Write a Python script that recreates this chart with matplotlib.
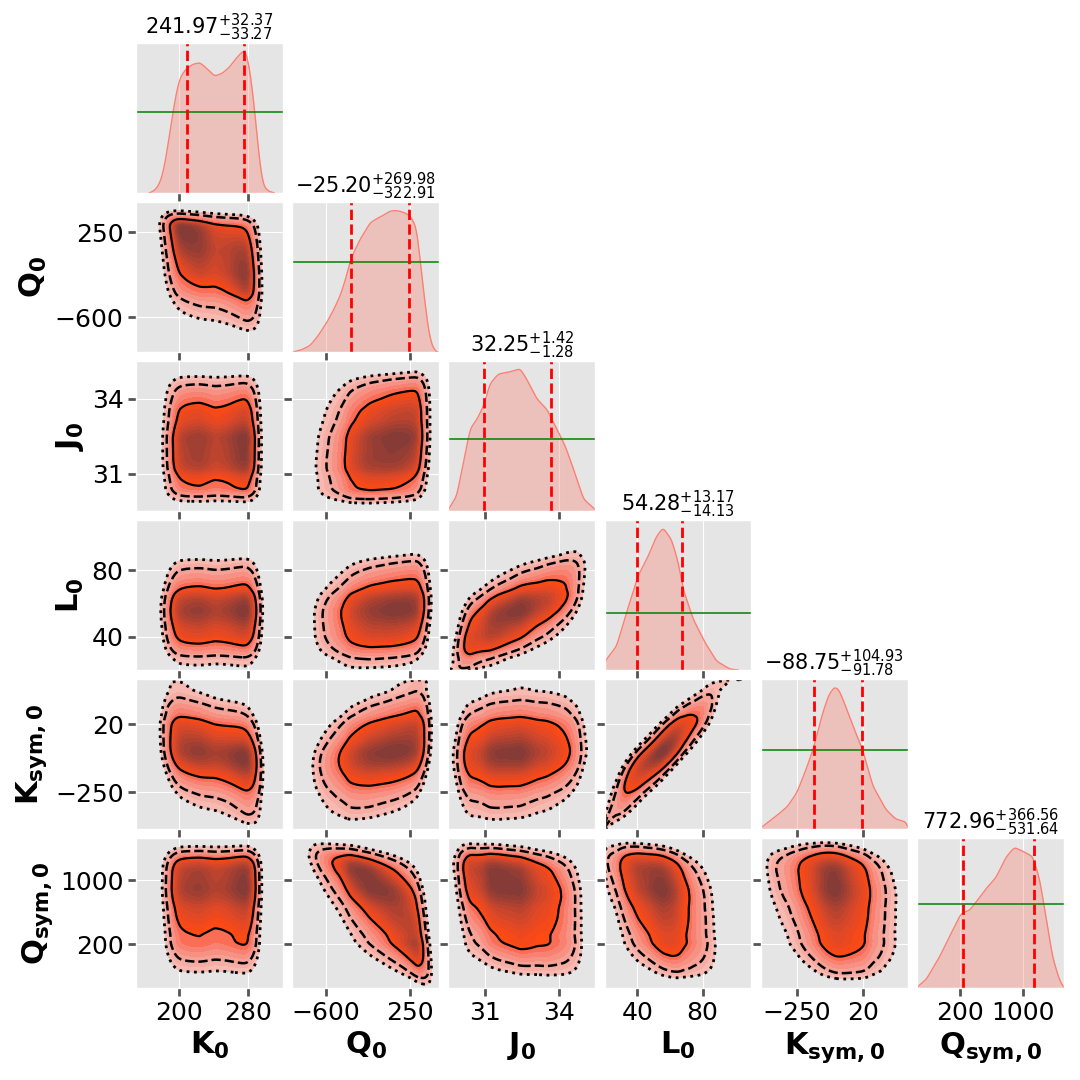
import math
import numpy as np
import matplotlib
matplotlib.use("Agg")
import matplotlib.pyplot as plt
from matplotlib.colors import LinearSegmentedColormap

# parameter labels, summary numbers and ticks
names = [r"$\mathbf{K_0}$", r"$\mathbf{Q_0}$", r"$\mathbf{J_0}$", r"$\mathbf{L_0}$",
         r"$\mathbf{K_{sym,0}}$", r"$\mathbf{Q_{sym,0}}$"]
medians = [241.97, -25.20, 32.25, 54.28, -88.75, 772.96]
err_up = [32.37, 269.98, 1.42, 13.17, 104.93, 366.56]
err_lo = [33.27, 322.91, 1.28, 14.13, 91.78, 531.64]
ticks = [[200, 280], [-600, 250], [31, 34], [40, 80], [-250, 20], [200, 1000]]
limits = [(150, 320), (-945, 550), (29.5, 35.5), (20, 110), (-398, 200), (-348, 1525)]

# marginal densities (relative heights)
k0_x = [166, 172, 177, 181, 185, 189, 193, 197, 201, 208, 216, 224, 232, 241, 250,
        258, 266, 274, 278, 282, 286, 290, 294, 298, 304, 310]
k0_h = [0.0, 0.02, 0.06, 0.13, 0.25, 0.40, 0.55, 0.68, 0.77, 0.83, 0.86, 0.87, 0.83,
        0.78, 0.80, 0.84, 0.90, 0.95, 0.93, 0.80, 0.62, 0.38, 0.16, 0.04, 0.01, 0.0]
q0_x = [-937, -850, -762, -680, -593, -525, -458, -400, -357, -300, -256, -200, -155,
        -100, -54, 0, 48, 100, 149, 200, 250, 301, 330, 351, 380, 402, 430, 452, 480, 520]
q0_h = [0.0, 0.015, 0.044, 0.11, 0.198, 0.28, 0.374, 0.49, 0.605, 0.69, 0.75, 0.81,
        0.86, 0.885, 0.90, 0.92, 0.94, 0.945, 0.94, 0.93, 0.91, 0.86, 0.78, 0.64, 0.48,
        0.35, 0.20, 0.11, 0.04, 0.0]
j0_x = [29.5, 29.84, 30.11, 30.39, 30.66, 30.93, 31.2, 31.54, 32.02, 32.43, 32.70,
        33.11, 33.52, 33.86, 34.27, 34.61, 35.02, 35.5]
j0_h = [0.01, 0.10, 0.32, 0.55, 0.61, 0.70, 0.85, 0.915, 0.93, 0.95, 0.88, 0.75, 0.68,
        0.57, 0.435, 0.28, 0.08, 0.01]
l0_x = [15, 19.6, 27.4, 33.5, 40.6, 46.7, 51.9, 55.9, 61.1, 65.1, 68.2, 74.3, 81.5,
        88.6, 96.8, 103]
l0_h = [0.0, 0.05, 0.16, 0.385, 0.63, 0.76, 0.895, 0.95, 0.87, 0.72, 0.54, 0.34, 0.185,
        0.06, 0.007, 0.0]
ks_x = [-401, -333, -290, -252, -220, -185, -145, -120, -97, -80, -64, -23, 17, 58,
        112, 152, 199]
ks_h = [0.005, 0.09, 0.15, 0.24, 0.37, 0.53, 0.78, 0.90, 0.95, 0.93, 0.87, 0.69, 0.53,
        0.29, 0.13, 0.067, 0.045]
qs_x = [-346, -227, -58, 111, 218, 323, 429, 535, 662, 789, 895, 1000, 1127, 1212,
        1297, 1381, 1466, 1521]
qs_h = [0.007, 0.06, 0.21, 0.39, 0.50, 0.52, 0.59, 0.665, 0.74, 0.875, 0.94, 0.915,
        0.88, 0.74, 0.48, 0.21, 0.06, 0.007]
marg_x = [k0_x, q0_x, j0_x, l0_x, ks_x, qs_x]
marg_h = [k0_h, q0_h, j0_h, l0_h, ks_h, qs_h]
green_level = [0.54, 0.60, 0.48, 0.38, 0.53, 0.56]

# correlation guessed from the tilt of each pair panel
rho = [[1.0, -0.25, 0.0, 0.0, -0.3, 0.0],
       [-0.25, 1.0, 0.15, 0.15, 0.3, -0.6],
       [0.0, 0.15, 1.0, 0.6, 0.1, -0.25],
       [0.0, 0.15, 0.6, 1.0, 0.88, -0.35],
       [-0.3, 0.3, 0.1, 0.88, 1.0, -0.2],
       [0.0, -0.6, -0.25, -0.35, -0.2, 1.0]]

# enclosed mass of the solid, dashed and dotted lines
masses = [0.68, 0.90, 0.96]

plt.style.use("ggplot")
cmap = LinearSegmentedColormap.from_list(
    "corner", [(0.0, "#f7bab2"), (0.12, "#f5a298"), (0.3, "#fb7564"),
               (0.375, "#ff4a14"), (0.62, "#d8472a"), (1.0, "#873b36")])

NG = 200
zt = np.linspace(-6, 6, 2401)
phit = np.array([0.5 * (1 + math.erf(z / math.sqrt(2))) for z in zt])


def smooth(v, s=2.0):
    k = np.arange(-int(4 * s), int(4 * s) + 1)
    w = np.exp(-0.5 * (k / s) ** 2)
    return np.convolve(v, w / w.sum(), mode="same")


def marginal(i):
    g = np.linspace(limits[i][0], limits[i][1], NG)
    f = smooth(np.interp(g, marg_x[i], marg_h[i], left=0, right=0))
    return g, f


def scores(f):
    u = np.cumsum(f) / f.sum()
    u = np.clip(u, 1e-6, 1 - 1e-6)
    return np.interp(u, phit, zt)


def hdr(d, ms):
    v = np.sort(d.ravel())[::-1]
    c = np.cumsum(v)
    c /= c[-1]
    return [v[np.searchsorted(c, m)] for m in ms]


fig = plt.figure(figsize=(10.8, 10.8), dpi=100)
axes = fig.subplots(6, 6)
fig.subplots_adjust(left=0.126, right=0.985, bottom=0.085, top=0.96,
                    wspace=0.063, hspace=0.062)

n = 6
for r in range(n):
    for c in range(n):
        ax = axes[r, c]
        if c > r:
            ax.remove()
            continue
        gx, fx = marginal(c)
        if r == c:
            mask = fx > 1e-3
            ax.fill_between(gx[mask], fx[mask], color="salmon", alpha=0.35, lw=0)
            ax.plot(gx[mask], fx[mask], color="salmon", lw=1)
            ax.axhline(green_level[c], color="green", lw=1.1)
            for v in (medians[c] - err_lo[c], medians[c] + err_up[c]):
                ax.axvline(v, color="red", ls="--", lw=2)
            ax.set_ylim(0, 1)
            ax.set_yticks([])
            ax.set_title(r"$%.2f^{+%.2f}_{-%.2f}$" % (medians[c], err_up[c], err_lo[c]),
                         fontsize=15, pad=4)
        else:
            gy, fy = marginal(r)
            zx, zy = scores(fx), scores(fy)
            p = rho[r][c]
            ZX, ZY = np.meshgrid(zx, zy)
            cop = np.exp(-(p * p * (ZX ** 2 + ZY ** 2) - 2 * p * ZX * ZY)
                         / (2 * (1 - p * p))) / math.sqrt(1 - p * p)
            d = fy[:, None] * fx[None, :] * cop
            t68, t95, t99 = hdr(d, masses)
            lv = np.concatenate([np.linspace(t99, t95, 3)[:-1],
                                 np.linspace(t95, t68, 5)[:-1],
                                 np.linspace(t68, d.max(), 12)])
            cols = [cmap(t) for t in np.linspace(0, 1, len(lv) - 1)]
            X, Y = np.meshgrid(gx, gy)
            ax.contourf(X, Y, d, levels=lv, colors=cols, antialiased=False)
            ax.contour(X, Y, d, levels=[t99], colors="black", linestyles=":", linewidths=2)
            ax.contour(X, Y, d, levels=[t95], colors="black", linestyles="--", linewidths=1.8)
            ax.contour(X, Y, d, levels=[t68], colors="black", linestyles="-", linewidths=1.6)
            ax.set_ylim(limits[r])
            ax.set_yticks(ticks[r])
            if c == 0:
                ax.set_ylabel(names[r], fontsize=22, color="black")
            else:
                ax.set_yticklabels([])
        ax.set_xlim(limits[c])
        ax.set_xticks(ticks[c])
        if r == n - 1:
            ax.set_xlabel(names[c], fontsize=22, color="black")
        else:
            ax.set_xticklabels([])
        ax.tick_params(labelsize=18, labelcolor="black", color="#555555",
                       length=5.5, width=2)

fig.savefig("out.png", dpi=100)
